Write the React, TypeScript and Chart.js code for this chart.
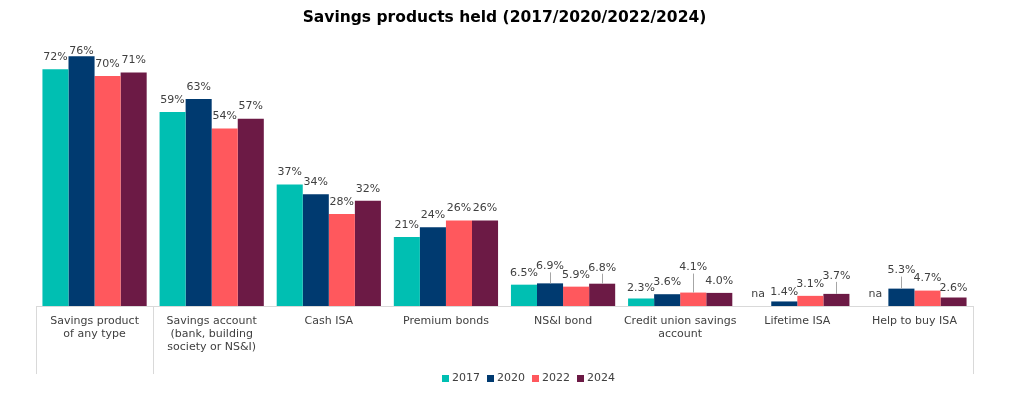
import React, { useEffect, useRef } from "react";
import { Chart, registerables } from "chart.js";

Chart.register(...registerables);

const categories: string[][] = [
  ["Savings product", "of any type"],
  ["Savings account", "(bank, building", "society or NS&I)"],
  ["Cash ISA"],
  ["Premium bonds"],
  ["NS&I bond"],
  ["Credit union savings", "account"],
  ["Lifetime ISA"],
  ["Help to buy ISA"],
];

const seriesNames = ["2017", "2020", "2022", "2024"];
const values2017: (number | null)[] = [72, 59, 37, 21, 6.5, 2.3, null, null];
const values2020: (number | null)[] = [76, 63, 34, 24, 6.9, 3.6, 1.4, 5.3];
const values2022: (number | null)[] = [70, 54, 28, 26, 5.9, 4.1, 3.1, 4.7];
const values2024: (number | null)[] = [71, 57, 32, 26, 6.8, 4.0, 3.7, 2.6];
const seriesColors = ["#00BFB2", "#003A70", "#FF585D", "#6C1A45"];

const FONT = "'DejaVu Sans', Verdana, sans-serif";
const TEXT = "#404040";
const LINE = "#d9d9d9";

// label vertical offsets (label centre above bar top) for specific labels
const labelLift: Record<string, number> = {
  "1-0": 5,
  "1-4": 17,
  "3-4": 16,
  "2-5": 25,
  "3-6": 18,
  "1-7": 18,
  "0-5": 10,
  "1-6": 9,
  "3-7": 9,
};

const fmt = (v: number | null) =>
  v == null ? "na" : v >= 10 ? `${Math.round(v)}%` : `${v.toFixed(1)}%`;

const labelPlugin = {
  id: "barLabels",
  afterDatasetsDraw(chart: any) {
    const ctx = chart.ctx;
    const yScale = chart.scales.y;
    const base = yScale.getPixelForValue(0);
    ctx.save();
    ctx.font = `11px ${FONT}`;
    ctx.fillStyle = TEXT;
    ctx.textAlign = "center";
    ctx.textBaseline = "middle";
    chart.data.datasets.forEach((ds: any, di: number) => {
      const meta = chart.getDatasetMeta(di);
      meta.data.forEach((el: any, i: number) => {
        const v = ds.data[i];
        const top = v == null ? base : el.y;
        const lift = labelLift[`${di}-${i}`] ?? 12;
        const cy = top - lift;
        if (lift > 14) {
          ctx.strokeStyle = "#a6a6a6";
          ctx.lineWidth = 1;
          ctx.beginPath();
          ctx.moveTo(Math.round(el.x) + 0.5, top);
          ctx.lineTo(Math.round(el.x) + 0.5, cy + 6);
          ctx.stroke();
        }
        ctx.fillText(fmt(v), el.x, cy);
      });
    });
    ctx.restore();
  },
};

const dividerPlugin = {
  id: "dividers",
  afterDraw(chart: any) {
    const ctx = chart.ctx;
    const area = chart.chartArea;
    const step = (area.right - area.left) / categories.length;
    const xs = [area.left, area.left + step, area.right];
    ctx.save();
    ctx.strokeStyle = LINE;
    ctx.lineWidth = 1;
    xs.forEach((x) => {
      ctx.beginPath();
      ctx.moveTo(Math.round(x) + 0.5, area.bottom);
      ctx.lineTo(Math.round(x) + 0.5, area.bottom + 68);
      ctx.stroke();
    });
    ctx.restore();
  },
};

const legendPlugin = {
  id: "customLegend",
  afterDraw(chart: any) {
    const ctx = chart.ctx;
    const area = chart.chartArea;
    const cy = area.bottom + 72;
    ctx.save();
    ctx.font = `11px ${FONT}`;
    const box = 7;
    const gap = 3;
    const itemGap = 7;
    const widths = chart.data.datasets.map(
      (ds: any) => box + gap + ctx.measureText(ds.label).width
    );
    const total = widths.reduce((a: number, b: number) => a + b, 0) + itemGap * (widths.length - 1);
    let x = (area.left + area.right) / 2 + 24 - total / 2;
    ctx.textBaseline = "middle";
    ctx.textAlign = "left";
    chart.data.datasets.forEach((ds: any, i: number) => {
      ctx.fillStyle = ds.backgroundColor;
      ctx.fillRect(Math.round(x), Math.round(cy - box / 2), box, box);
      ctx.fillStyle = TEXT;
      ctx.fillText(ds.label, x + box + gap, cy);
      x += widths[i] + itemGap;
    });
    ctx.restore();
  },
};

export default function App() {
  const ref = useRef<HTMLCanvasElement>(null);
  useEffect(() => {
    document.body.style.margin = "0";
    document.body.style.overflow = "hidden";
    const allValues = [values2017, values2020, values2022, values2024];
    const chart = new Chart(ref.current!, {
      type: "bar",
      data: {
        labels: categories,
        datasets: allValues.map((vals, i) => ({
          label: seriesNames[i],
          data: vals,
          backgroundColor: seriesColors[i],
          borderWidth: 0,
          categoryPercentage: 0.89,
          barPercentage: 1,
        })),
      },
      options: {
        animation: false,
        responsive: false,
        devicePixelRatio: 1,
        layout: { padding: { left: 36, right: 51, bottom: 37 } },
        scales: {
          x: {
            grid: { display: false, drawTicks: false },
            border: { display: true, color: LINE },
            ticks: {
              color: TEXT,
              font: { family: FONT, size: 11, lineHeight: 1.15 },
              padding: 9,
              maxRotation: 0,
              autoSkip: false,
            },
          },
          y: {
            display: false,
            min: 0,
            max: 80,
          },
        },
        plugins: {
          title: {
            display: true,
            text: "Savings products held (2017/2020/2022/2024)",
            color: "#000",
            font: { family: FONT, size: 15.5, weight: "bold", lineHeight: 1.2 },
            padding: { top: 9, bottom: 15.4 },
          },
          legend: { display: false },
          tooltip: { enabled: false },
        },
      },
      plugins: [labelPlugin, dividerPlugin, legendPlugin],
    });
    return () => chart.destroy();
  }, []);
  return <canvas ref={ref} width={1024} height={399} style={{ display: "block" }} />;
}
